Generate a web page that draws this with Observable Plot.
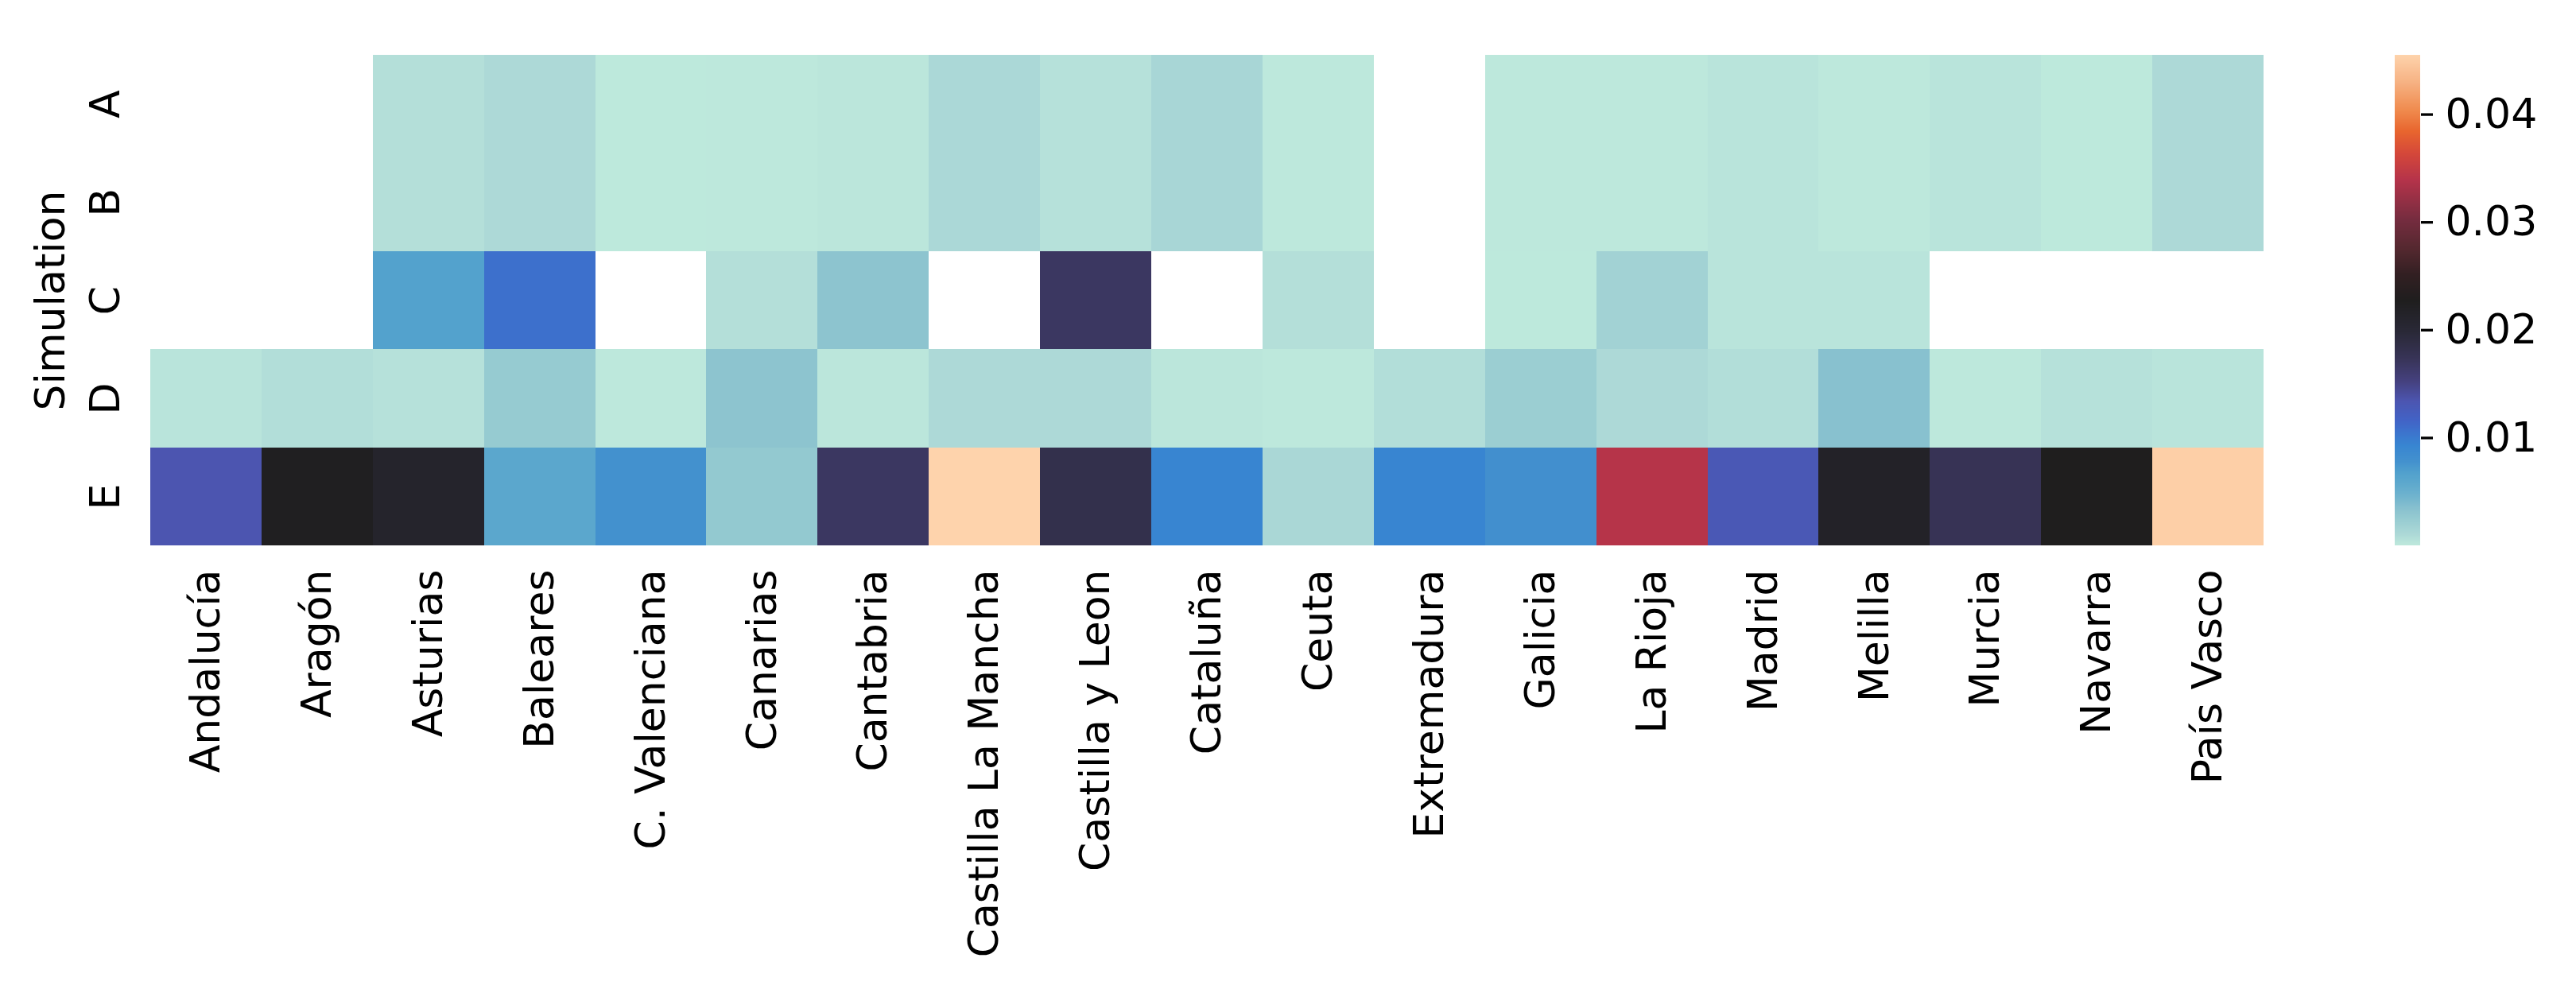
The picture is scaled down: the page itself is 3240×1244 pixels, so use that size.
<!DOCTYPE html>
<html>
<head>
<meta charset="utf-8">
<script src="https://cdn.jsdelivr.net/npm/d3@7"></script>
<script src="https://cdn.jsdelivr.net/npm/@observablehq/plot@0.6"></script>
<style>
html,body{margin:0;padding:0;background:#fff;overflow:hidden}
#wrap{position:relative;width:3240px;height:1244px}
svg{font-family:"DejaVu Sans",sans-serif}
</style>
</head>
<body>
<div id="wrap"></div>
<script>
const regions = ["Andalucía","Aragón","Asturias","Baleares","C. Valenciana","Canarias","Cantabria","Castilla La Mancha","Castilla y Leon","Cataluña","Ceuta","Extremadura","Galicia","La Rioja","Madrid","Melilla","Murcia","Navarra","País Vasco"];
const simulations = ["A","B","C","D","E"];
const simA = [null,null,.0006,.001,.00003,.00005,.0002,.0011,.0005,.0013,.00005,null,.00005,.00005,.0003,.00005,.0003,.00003,.001];
const simB = [null,null,.0006,.001,.00003,.00005,.0002,.0011,.0005,.0013,.00005,null,.00005,.00005,.0003,.00005,.0003,.00003,.001];
const simC = [null,null,.0066,.0107,null,.0006,.0031,null,.0168,null,.0006,null,.00003,.0017,.0003,.0003,null,null,null];
const simD = [.0003,.0007,.0005,.0025,.00005,.0031,.0002,.001,.001,.0002,.00005,.0007,.0022,.001,.0007,.0034,.00005,.0005,.0003];
const simE = [.0134,.0224,.0211,.0059,.0078,.0027,.0168,.0455,.0182,.0093,.0012,.0093,.008,.034,.013,.0216,.0175,.0227,.0452];
const rows = [simA,simB,simC,simD,simE];

const colorStops = [0,.001,.0025,.0032,.0046,.0059,.0066,.0078,.0093,.0107,.0116,.0134,.0152,.0173,.0197,.0227,.0251,.0275,.0302,.0339,.0363,.0384,.0404,.0429,.0455];
const colorValues = ["#bee9dc","#add9d7","#96cbd1","#8cc3cf","#6fb3ce","#5ba7cd","#53a2cd","#4391ce","#3885d1","#3d70cc","#4263c6","#4c55b0","#45417f","#383458","#2a2938","#1f1e1e","#321f22","#54282f","#752c3f","#b5334a","#d4473a","#e8652e","#f08b4e","#f6b182","#fed3ac"];
const colorTicks = [.01,.02,.03,.04];
const colorExtent = [0,.0455];

const color = {type:"linear",domain:colorStops,range:colorValues,interpolate:"rgb"};
const font = {fontFamily:"DejaVu Sans",fontSize:52};
const cells = rows.flatMap((r,i)=>r.map((v,j)=>({sim:simulations[i],region:regions[j],v})));

const main = Plot.plot({
  width:3240,height:1244,
  marginLeft:189,marginRight:393,marginTop:69,marginBottom:558,
  style:{background:"transparent",position:"absolute",left:0,top:0},
  x:{type:"band",domain:regions,padding:0,round:false,axis:null},
  y:{type:"band",domain:simulations,padding:0,round:false,axis:null},
  color,
  marks:[
    Plot.cell(cells,{x:"region",y:"sim",fill:"v",shapeRendering:"crispEdges"}),
    Plot.axisX({anchor:"bottom",tickRotate:-90,tickSize:0,tickPadding:30,label:null,...font,fill:"#000"}),
    Plot.axisY({anchor:"left",tickRotate:-90,tickSize:0,tickPadding:40,label:"Simulation",labelAnchor:"center",labelArrow:"none",labelOffset:145,...font,fill:"#000"})
  ]
});
document.getElementById("wrap").appendChild(main);

const gradientSteps = d3.range(617).map(i=>colorExtent[0]+(colorExtent[1]-colorExtent[0])*(i+.5)/617);
const bar = Plot.plot({
  width:228,height:1244,
  marginLeft:0,marginRight:196,marginTop:69,marginBottom:558,
  style:{background:"transparent",position:"absolute",left:"3012px",top:0,overflow:"visible"},
  x:{domain:[0,1],axis:null},
  y:{domain:colorExtent,axis:null},
  color,
  marks:[
    Plot.rect(gradientSteps,{x1:0,x2:1,y1:d=>d-(colorExtent[1]/1234),y2:d=>d+(colorExtent[1]/1234),fill:d=>d,shapeRendering:"crispEdges"}),
    Plot.axisY({anchor:"right",ticks:colorTicks,tickFormat:".2f",tickSize:15,tickPadding:16,strokeWidth:3.3,stroke:"#000",label:null,...font,fill:"#000"})
  ]
});
document.getElementById("wrap").appendChild(bar);
</script>
</body>
</html>
